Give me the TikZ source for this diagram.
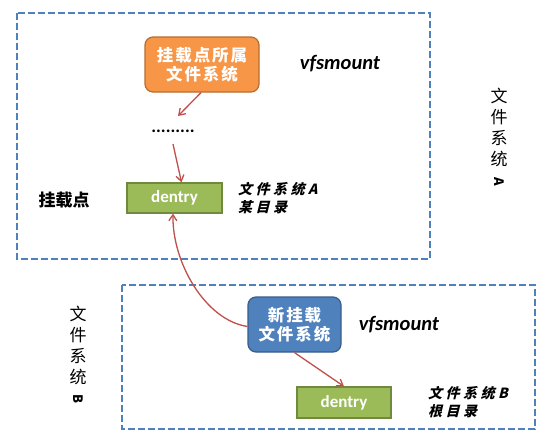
\documentclass[tikz,border=0pt]{standalone}
\usepackage{fontspec}
\setmainfont{Carlito}
\newfontfamily\cjk{Noto Sans CJK SC}
\newfontfamily\cjksp{Noto Sans CJK SC}[LetterSpace=12]
\newfontfamily\cjkit{Noto Sans CJK SC}[FakeSlant=0.25,LetterSpace=25]
\usetikzlibrary{arrows.meta}
\definecolor{frameblue}{HTML}{4F81BD}
\definecolor{orfill}{HTML}{F79646}
\definecolor{ordraw}{HTML}{B66D31}
\definecolor{blfill}{HTML}{4F81BD}
\definecolor{bldraw}{HTML}{385D8A}
\definecolor{grfill}{HTML}{9BBB59}
\definecolor{grdraw}{HTML}{71893F}
\definecolor{arr}{HTML}{C0504D}
\tikzset{
  frame/.style={draw=frameblue, line width=1.8pt, dash pattern=on 7pt off 3pt},
  roundbox/.style={rounded corners=8pt, line width=1.2pt, minimum width=#1, minimum height=55pt, inner sep=0pt, align=center, text=white, font=\cjksp\bfseries\fontsize{16.5}{19}\selectfont},
  orbox/.style={roundbox=114pt, fill=orfill, draw=ordraw},
  blbox/.style={roundbox=93pt, fill=blfill, draw=bldraw},
  dentrybox/.style={fill=grfill, draw=grdraw, line width=1.2pt, minimum width=95pt, minimum height=30pt, inner sep=0pt, text=white, font=\bfseries\fontsize{17}{19}\selectfont},
  vfs/.style={font=\bfseries\itshape\fontsize{20.5}{24}\selectfont},
  itlabel/.style={anchor=west, align=left, inner sep=0pt, font=\cjkit\bfseries\fontsize{14}{18}\selectfont},
  vlabel/.style={align=center, inner sep=0pt, font=\cjk\fontsize{17}{21}\selectfont},
  conn/.style={draw=arr, line width=1.3pt, -{Straight Barb[length=6pt,width=8pt]}}
}
\begin{document}
\begin{tikzpicture}[x=1pt,y=-1pt]
\useasboundingbox (0,0) rectangle (546,437);
\fill[white] (0,0) rectangle (546,437);
\draw[frame] (17,13) rectangle (430,259);
\draw[frame] (122,285) rectangle (535,429);

\node[orbox] (mp) at (202,64.5) {挂载点所属\\文件系统};
\node[vfs] (vfsa) at (340,64) {vfsmount};
\node[inner sep=0pt, font=\bfseries\fontsize{18}{20}\selectfont] (dots) at (173,131) {.........};
\node[dentrybox] (da) at (174.5,198) {dentry};
\node[font=\cjk\bfseries\fontsize{17}{20}\selectfont] (mpt) at (64,200) {挂载点};
\node[itlabel] (la) at (238,198) {文件系统\textit{A}\\某目录};
\node[vlabel] (fsa) at (499,137) {文\\件\\系\\统\\{\bfseries\fontsize{13}{13}\selectfont\rotatebox[origin=c]{-90}{A}}};

\node[blbox] (nb) at (294.5,324.5) {新挂载\\文件系统};
\node[vfs] (vfsb) at (399,325) {vfsmount};
\node[dentrybox, minimum width=94pt, minimum height=31pt] (db) at (344,402.5) {dentry};
\node[itlabel] (lb) at (428,402) {文件系统\textit{B}\\根目录};
\node[vlabel] (fsb) at (78,355) {文\\件\\系\\统\\{\bfseries\fontsize{13}{13}\selectfont\rotatebox[origin=c]{-90}{B}}};

\coordinate (c1) at (178,116);
\draw[conn] ([xshift=-1pt]mp.south) -- (c1);
\draw[conn] ([yshift=-13pt]dots.center) -- ([xshift=7pt]da.north);
\draw[conn] (nb.south) -- (db.north);
\draw[conn] ([yshift=-2pt]nb.west) .. controls (205,320) and (172,262) .. ([xshift=-1.5pt]da.south);
\end{tikzpicture}
\end{document}
